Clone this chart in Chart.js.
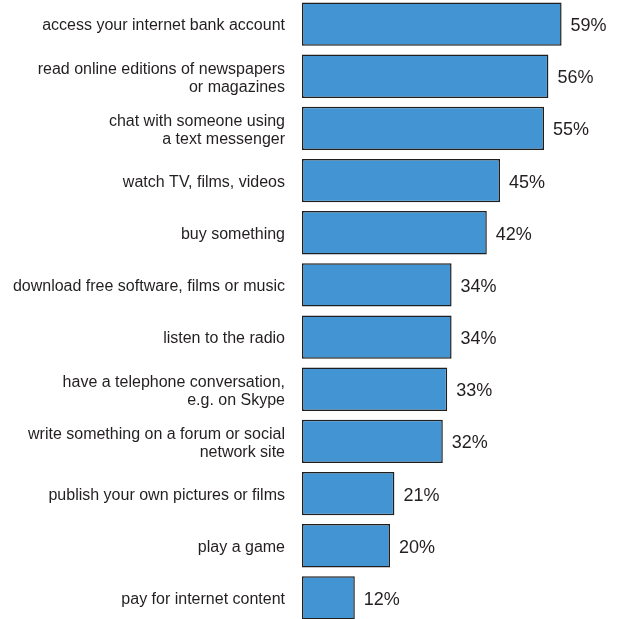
<!DOCTYPE html>
<html>
<head>
<meta charset="utf-8">
<script src="https://cdn.jsdelivr.net/npm/chart.js@4/dist/chart.umd.min.js"></script>
<style>
    html, body { margin: 0; padding: 0; background: #fff; overflow: hidden; }
    #wrap { position: absolute; left: 0; top: -2px; width: 624px; height: 626px; }
</style>
</head>
<body>
<div id="wrap"><canvas id="myChart"></canvas></div>
<script>
const activities = [
    'access your internet bank account',
    ['read online editions of newspapers', 'or magazines'],
    ['chat with someone using', 'a text messenger'],
    'watch TV, films, videos',
    'buy something',
    'download free software, films or music',
    'listen to the radio',
    ['have a telephone conversation,', 'e.g. on Skype'],
    ['write something on a forum or social', 'network site'],
    'publish your own pictures or films',
    'play a game',
    'pay for internet content'
]
const shares = [59, 56, 55, 45, 42, 34, 34, 33, 32, 21, 20, 12]

const textColor = '#231f20'
const fontFamily = '"Liberation Sans", Arial, sans-serif'

// percentage written just past the end of each bar
const valueLabels = {
    id: 'valueLabels',
    afterDatasetsDraw(chart) {
        const ctx = chart.ctx
        const meta = chart.getDatasetMeta(0)
        ctx.save()
        ctx.font = '18px ' + fontFamily
        ctx.fillStyle = textColor
        ctx.textAlign = 'left'
        ctx.textBaseline = 'middle'
        meta.data.forEach((bar, i) => {
            ctx.fillText(shares[i] + '%', bar.x + 9, bar.y + 2)
        })
        ctx.restore()
    }
}

let bar = () => {
    const ctx = document.getElementById('myChart')

    const dataset = {
        labels: activities,
        datasets: [{
            data: shares,
            backgroundColor: '#4394d2',
            borderColor: '#1f1f1f',
            borderWidth: 1.5,
            borderSkipped: false,
            categoryPercentage: 1,
            barPercentage: 0.831
        }]
    }

    const config = {
        type: 'bar',
        data: dataset,
        options: {
            indexAxis: 'y',
            responsive: true,
            maintainAspectRatio: false,
            animation: false,
            layout: { padding: { left: 0, right: 14, top: 0, bottom: 0 } },
            plugins: {
                legend: { display: false },
                tooltip: { enabled: false }
            },
            scales: {
                x: {
                    display: false,
                    min: 0,
                    max: 70
                },
                y: {
                    grid: { display: false, drawTicks: false },
                    border: { display: false },
                    // fixed label column, no extra space above/below the bars
                    afterFit: (scale) => {
                        scale.width = 302
                        scale.paddingTop = 0
                        scale.paddingBottom = 0
                    },
                    ticks: {
                        padding: 17,
                        labelOffset: 2,
                        color: textColor,
                        font: { family: fontFamily, size: 16, lineHeight: 1.12 },
                        autoSkip: false
                    }
                }
            }
        },
        plugins: [valueLabels]
    }

    const chart = new Chart(ctx, config)
}

bar()
</script>
</body>
</html>
